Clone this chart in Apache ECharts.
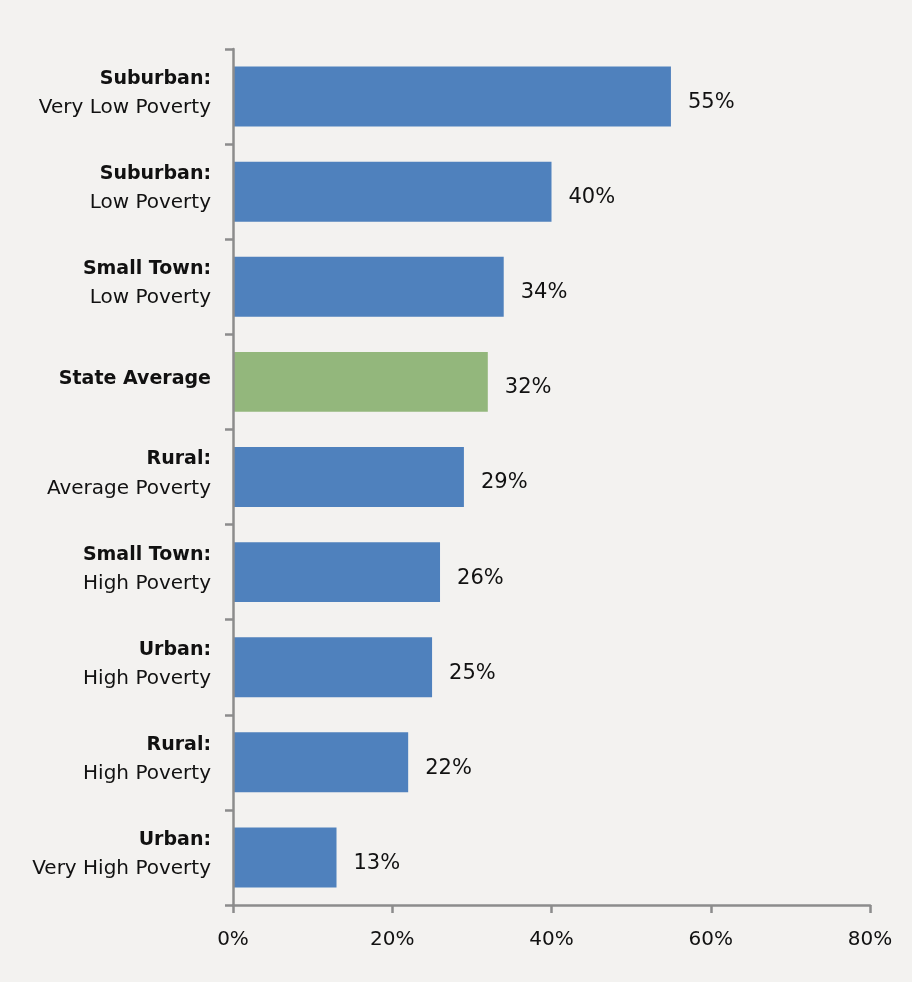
<!DOCTYPE html>
<html>
<head>
<meta charset="utf-8">
<style>
  html, body { margin: 0; padding: 0; background: #f3f2f0; }
  #chart { width: 912px; height: 982px; }
</style>
<script src="https://cdn.jsdelivr.net/npm/echarts@6/dist/echarts.min.js"></script>
</head>
<body>
<div id="chart"></div>
<script>
// Category labels: bold heading and regular sub-line
const groupNames = ['Suburban:', 'Suburban:', 'Small Town:', 'State Average', 'Rural:', 'Small Town:', 'Urban:', 'Rural:', 'Urban:'];
const povertyLevels = ['Very Low Poverty', 'Low Poverty', 'Low Poverty', '', 'Average Poverty', 'High Poverty', 'High Poverty', 'High Poverty', 'Very High Poverty'];
const percentValues = [55, 40, 34, 32, 29, 26, 25, 22, 13];
const xTicks = [0, 20, 40, 60, 80];
const highlightIndex = 3;

const BLUE = '#4f81bd';
const GREEN = '#93b77c';
const AXIS = '#8c8c8c';
const FONT = '"DejaVu Sans", "Noto Sans", sans-serif';

const categories = groupNames.map((g, i) => povertyLevels[i] ? g + '\n' + povertyLevels[i] : g);

const chart = echarts.init(document.getElementById('chart'));
chart.setOption({
  backgroundColor: '#f3f2f0',
  animation: false,
  grid: { left: 233, right: 42, top: 49, bottom: 77, containLabel: false },
  xAxis: {
    type: 'value',
    min: xTicks[0],
    max: xTicks[xTicks.length - 1],
    interval: 20,
    axisLine: { show: true, lineStyle: { color: AXIS, width: 2.5 } },
    axisTick: { show: true, length: 8, lineStyle: { color: AXIS, width: 2.5 } },
    splitLine: { show: false },
    axisLabel: {
      margin: 25,
      color: '#111',
      fontSize: 20,
      fontFamily: FONT,
      formatter: v => v + '%'
    }
  },
  yAxis: {
    type: 'category',
    inverse: true,
    z: 5,
    data: categories,
    axisLine: { show: true, lineStyle: { color: AXIS, width: 2.5 } },
    axisTick: { show: true, length: 8, lineStyle: { color: AXIS, width: 2.5 } },
    axisLabel: {
      margin: 22,
      color: '#111',
      fontSize: 20,
      fontFamily: FONT,
      lineHeight: 29,
      padding: [0, 0, 6, 0],
      formatter: function (val) {
        const parts = val.split('\n');
        if (parts.length === 1) return '{b|' + parts[0] + '}';
        return '{b|' + parts[0] + '}\n{r|' + parts[1] + '}';
      },
      rich: {
        b: { fontWeight: 'bold', fontSize: 19, fontFamily: FONT, color: '#111', lineHeight: 29, align: 'right' },
        r: { fontSize: 20, fontFamily: FONT, color: '#111', lineHeight: 29, align: 'right' }
      }
    }
  },
  series: [{
    type: 'bar',
    barCategoryGap: '37%',
    data: percentValues.map((v, i) => ({
      value: v,
      itemStyle: { color: i === highlightIndex ? GREEN : BLUE }
    })),
    label: {
      show: true,
      position: 'right',
      distance: 17,
      offset: [0, 6],
      color: '#111',
      fontSize: 21,
      fontFamily: FONT,
      formatter: p => p.value + '%'
    }
  }]
});
</script>
</body>
</html>
